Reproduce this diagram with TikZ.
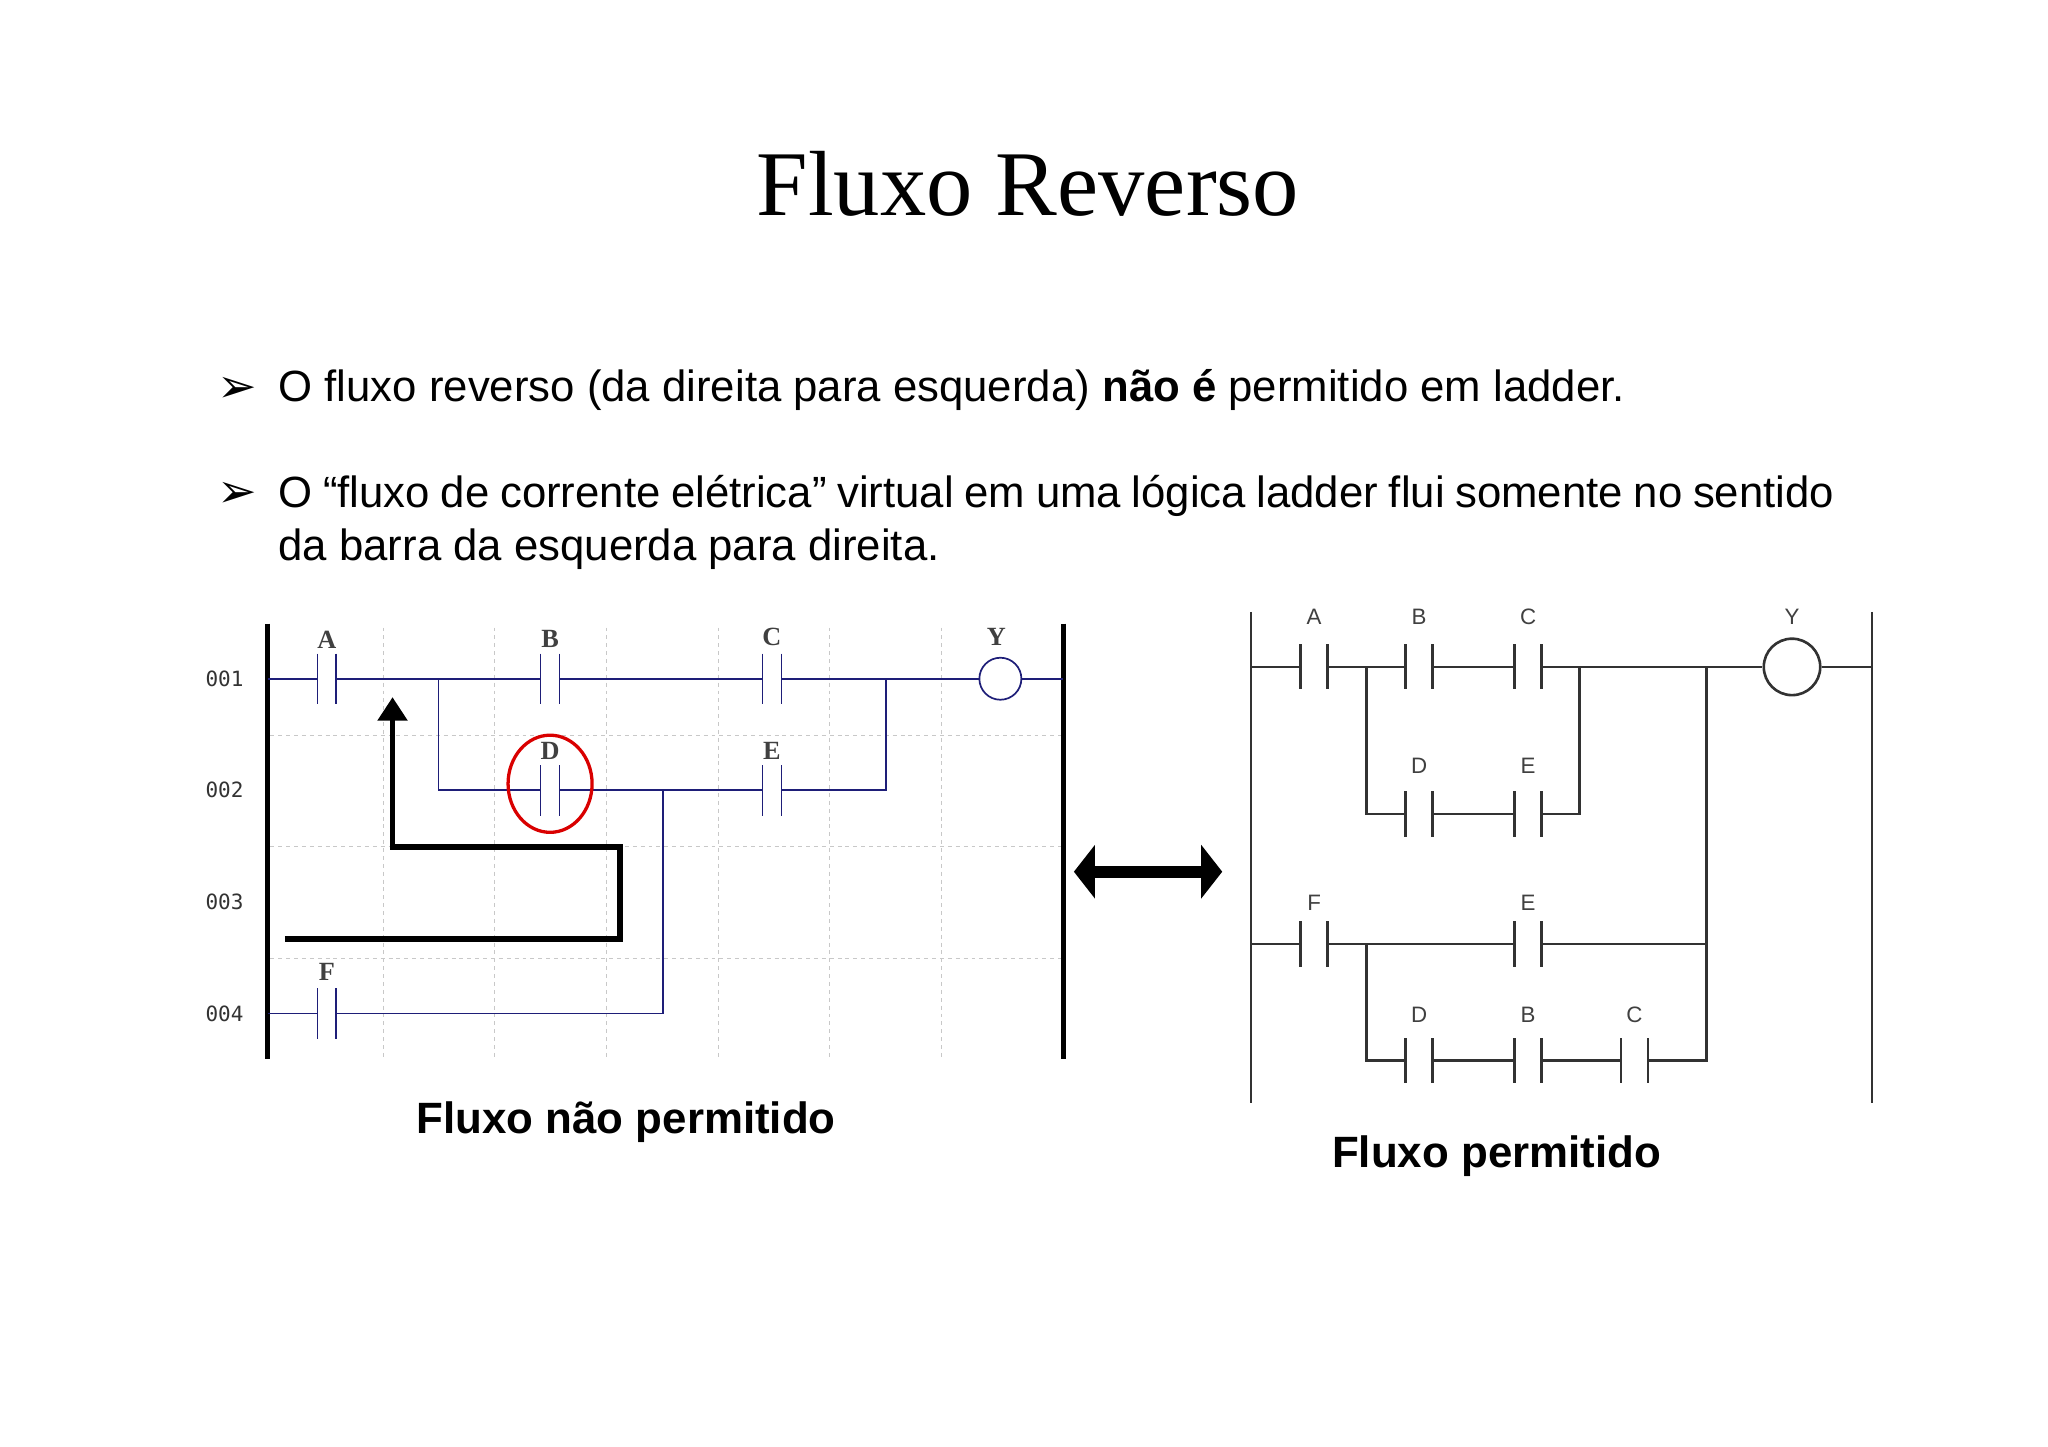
\documentclass[tikz,border=0pt]{standalone}
\usepackage{fontspec}
\setmainfont{Liberation Sans}
\newfontfamily\titlefont{Liberation Serif}
\newfontfamily\dingfont{DejaVu Sans}
\newfontfamily\monofont{DejaVu Sans Mono}
\usetikzlibrary{arrows.meta,shapes.geometric}
\definecolor{navy}{RGB}{30,30,120}
\definecolor{gridc}{RGB}{200,200,200}
\definecolor{rgray}{RGB}{50,50,50}
% #1 name, #2 x, #3 y, #4 half gap, #5 half height, #6 colour/style, #7 label, #8 label y, #9 font
\newcommand\mycontact[9]{%
  \node[inner sep=0, minimum width=2*#4, minimum height=2*#5] (#1) at (#2,#3) {};
  \draw[#6] (#1.north west) -- (#1.south west) (#1.north east) -- (#1.south east);
  \node[font=#9, text=black!75] (#1l) at (#2,#8) {#7};
}
\begin{document}
\begin{tikzpicture}[x=1pt,y=-1pt,
  lw/.style={navy, line width=1.3},
  rw/.style={rgray, line width=2},
  grid/.style={gridc, dashed, line width=0.8},
  rail/.style={black, line width=4}]
\useasboundingbox (0,0) rectangle (1560,1102);
\node[font=\titlefont\fontsize{70.5}{80}\selectfont] (title) at (783,140) {Fluxo Reverso};
\node[font=\dingfont\fontsize{36}{40}\selectfont] (b1) at (181,297) {➢};
\node[font=\dingfont\fontsize{36}{40}\selectfont] (b2) at (181,377) {➢};
\node[anchor=west, inner sep=0, font=\fontsize{33.3}{40}\selectfont] (t1) at (212,297) {O fluxo reverso (da direita para esquerda) \textbf{não é} permitido em ladder.};
\node[anchor=north west, inner sep=0, text width=1185, align=justify, font=\fontsize{33.3}{40}\selectfont] (t2) at (212,362) {O “fluxo de corrente elétrica” virtual em uma lógica ladder flui somente no sentido da barra da esquerda para direita.};

% ---- left diagram
\foreach \x in {292,377,462,547,632,717} \draw[grid] (\x,478) -- (\x,805);
\foreach \y in {560,645,730} \draw[grid] (206,\y) -- (808,\y);
\foreach \t/\y in {001/517,002/602,003/687,004/772}
  \node[font=\monofont\fontsize{16}{18}\selectfont, text=black!80] (r\t) at (171,\y) {\t};
\coordinate (lt) at (204,475); \coordinate (lb) at (204,807);
\coordinate (rt) at (810,475); \coordinate (rb) at (810,807);
\draw[rail] (lt) -- (lb); \draw[rail] (rt) -- (rb);
\def\lf{\titlefont\bfseries\fontsize{20}{22}\selectfont}
\mycontact{A}{249}{517}{7}{19}{lw}{A}{487}{\lf}
\mycontact{B}{419}{517}{7}{19}{lw}{B}{487}{\lf}
\mycontact{C}{588}{517}{7}{19}{lw}{C}{485}{\lf}
\mycontact{D}{419}{602}{7}{19}{lw}{D}{572}{\lf}
\mycontact{E}{588}{602}{7}{19}{lw}{E}{572}{\lf}
\mycontact{F}{249}{772}{7}{19}{lw}{F}{740}{\lf}
\node[draw=navy, line width=1.3, circle, minimum size=32, inner sep=0] (Y) at (762,517) {};
\node[font=\lf, text=black!75] (Yl) at (759,485) {Y};
\coordinate (l1) at (204,517); \coordinate (r1) at (810,517);
\coordinate (j1) at (334,517); \coordinate (j2) at (334,602);
\coordinate (j3) at (675,517); \coordinate (j4) at (675,602);
\coordinate (j5) at (505,602); \coordinate (j6) at (505,772);
\coordinate (l4) at (204,772);
\draw[lw] (l1) -- (A.west) (A.east) -- (B.west) (B.east) -- (C.west) (C.east) -- (Y.west) (Y.east) -- (r1);
\draw[lw] (j1) -- (j2) -- (D.west) (D.east) -- (E.west) (E.east) -- (j4) -- (j3);
\draw[lw] (j5) -- (j6) -- (F.east) (F.west) -- (l4);
\node[draw=red!85!black, line width=2.5, ellipse, minimum width=64, minimum height=74, inner sep=0] (Dc) at (419,597) {};
\coordinate (p0) at (217,715); \coordinate (p1) at (472,715);
\coordinate (p2) at (472,645); \coordinate (p3) at (299,645); \coordinate (p4) at (299,531);
\draw[line width=4.5, -{Triangle[length=18,width=22]}] (p0) -- (p1) -- (p2) -- (p3) -- (p4);
\node[font=\bfseries\fontsize{33.4}{38}\selectfont] (cap1) at (477,855) {Fluxo não permitido};

% ---- double arrow
\coordinate (da) at (818,664); \coordinate (db) at (931,664);
\draw[line width=9, {Triangle[length=16,width=40]}-{Triangle[length=16,width=40]}] (da) -- (db);

% ---- right diagram
\def\rf{\fontsize{17}{19}\selectfont}
\coordinate (Lt) at (953,466); \coordinate (Lb) at (953,840);
\coordinate (Rt) at (1426,466); \coordinate (Rb) at (1426,840);
\draw[rw] (Lt) -- (Lb); \draw[rw] (Rt) -- (Rb);
\mycontact{rA}{1001}{508}{10}{17}{rw}{A}{470}{\rf}
\mycontact{rB}{1081}{508}{10}{17}{rw}{B}{470}{\rf}
\mycontact{rC}{1164}{508}{10}{17}{rw}{C}{470}{\rf}
\mycontact{rD}{1081}{620}{10}{17}{rw}{D}{583}{\rf}
\mycontact{rE}{1164}{620}{10}{17}{rw}{E}{583}{\rf}
\mycontact{rF}{1001}{719}{10}{17}{rw}{F}{688}{\rf}
\mycontact{rE2}{1164}{719}{10}{17}{rw}{E}{688}{\rf}
\mycontact{rD2}{1081}{808}{10}{17}{rw}{D}{773}{\rf}
\mycontact{rB2}{1164}{808}{10}{17}{rw}{B}{773}{\rf}
\mycontact{rC2}{1245}{808}{10}{17}{rw}{C}{773}{\rf}
\node[draw=rgray, line width=2, circle, minimum size=43, inner sep=0] (rY) at (1365,508) {};
\node[font=\rf, text=black!75] (rYl) at (1365,470) {Y};
\coordinate (R1l) at (953,508); \coordinate (R1r) at (1426,508);
\coordinate (k1) at (1041,508); \coordinate (k2) at (1041,620);
\coordinate (k3) at (1203,508); \coordinate (k4) at (1203,620);
\coordinate (k5) at (1300,508); \coordinate (k6) at (1300,719); \coordinate (k7) at (1300,808);
\coordinate (R3l) at (953,719);
\coordinate (k8) at (1041,719); \coordinate (k9) at (1041,808);
\draw[rw] (R1l) -- (rA.west) (rA.east) -- (rB.west) (rB.east) -- (rC.west) (rC.east) -- (rY.west) (rY.east) -- (R1r);
\draw[rw] (k1) -- (k2) -- (rD.west) (rD.east) -- (rE.west) (rE.east) -- (k4) -- (k3);
\draw[rw] (k5) -- (k7) -- (rC2.east) (rC2.west) -- (rB2.east) (rB2.west) -- (rD2.east) (rD2.west) -- (k9) -- (k8);
\draw[rw] (R3l) -- (rF.west) (rF.east) -- (rE2.west) (rE2.east) -- (k6);
\node[font=\bfseries\fontsize{33.4}{38}\selectfont] (cap2) at (1140,881) {Fluxo permitido};
\end{tikzpicture}
\end{document}
